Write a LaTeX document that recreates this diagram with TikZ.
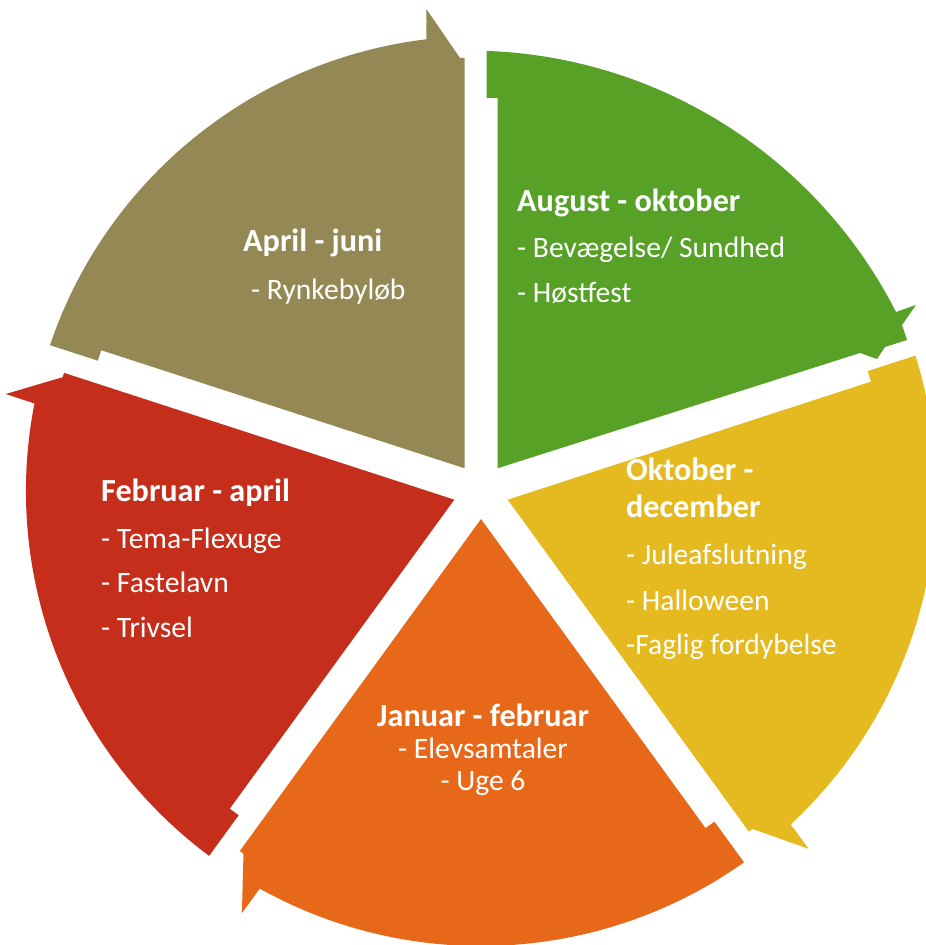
\documentclass[tikz,border=0pt]{standalone}
\usepackage{fontspec}
\setmainfont{Carlito}
\definecolor{khakiseg}{RGB}{148,137,84}
\definecolor{greenseg}{RGB}{86,161,38}
\definecolor{yellowseg}{RGB}{229,185,32}
\definecolor{orangeseg}{RGB}{232,104,26}
\definecolor{redseg}{RGB}{196,46,26}
\begin{document}
\begin{tikzpicture}[x=1pt,y=1pt,
  lbl/.style={text=white, inner sep=0pt, anchor=base west, font=\fontsize{29.6}{35}\selectfont},
  hd/.style={lbl, font=\fontsize{32.2}{38}\selectfont\bfseries},
  clbl/.style={lbl, anchor=base},
  chd/.style={hd, anchor=base},
]
\useasboundingbox (0,0) rectangle (926,945);
\clip (0,0) rectangle (926,945);
% generic segments (circular-arrow wedges)
\foreach \a/\c in {90/khakiseg,162/redseg,234/orangeseg,306/yellowseg}{
  \fill[\c, shift={(481,454)}, rotate=\a]
    (22.71,16.5) -- (140.75,379.79) -- (130.29,383.19) -- (145.83,431.03)
    arc[start angle=71.31, end angle=6.9, radius=455]
    -- (482,54.66) -- (433,21) -- (433,16.5) -- cycle;
}
% green segment
\fill[greenseg] (497.5,476.7) -- (497.5,847) -- (486.5,847) -- (486.6,894.1)
  arc[start angle=87.9, end angle=27.04, radius=479.4]
  -- (916,640) -- (902,620) -- (907,605) -- (885,598) -- (877,586) -- (860,592) -- cycle;
% texts
\node[hd] (g1) at (517,733) {August - oktober};
\node[lbl] (g2) at (517,687) {- Bevægelse/ Sundhed};
\node[lbl] (g3) at (517,642) {- Høstfest};
\node[hd] (k1) at (243,693) {April - juni};
\node[lbl] (k2) at (251,645) {- Rynkebyløb};
\node[hd] (r1) at (101,443) {Februar - april};
\node[lbl] (r2) at (101,396) {- Tema-Flexuge};
\node[lbl] (r3) at (101,352) {- Fastelavn};
\node[lbl] (r4) at (101,307) {- Trivsel};
\node[hd] (y1) at (626,464) {Oktober -};
\node[hd] (y2) at (626,427) {december};
\node[lbl] (y3) at (626,380) {- Juleafslutning};
\node[lbl] (y4) at (626,334) {- Halloween};
\node[lbl] (y5) at (626,290) {-Faglig fordybelse};
\node[chd] (o1) at (483,218) {Januar - februar};
\node[clbl] (o2) at (483,186) {- Elevsamtaler};
\node[clbl] (o3) at (483,154) {- Uge 6};
\end{tikzpicture}
\end{document}
